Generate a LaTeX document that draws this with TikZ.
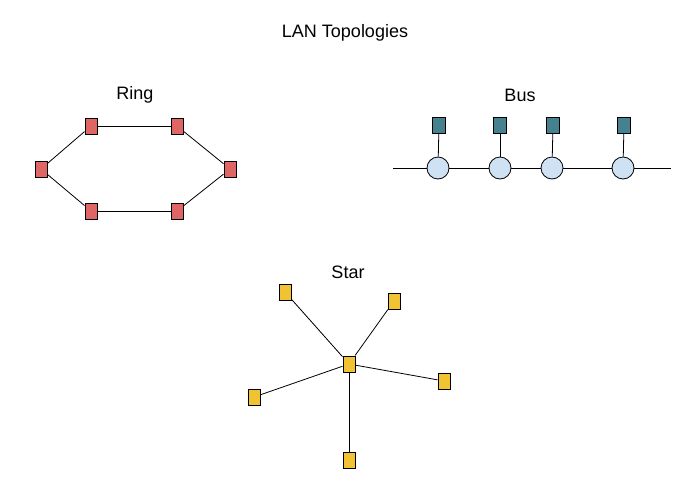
\documentclass[tikz,border=0pt]{standalone}
\usepackage{fontspec}
\setmainfont{Liberation Sans}
\usepackage{xcolor}
\usepackage{tikz}

\definecolor{ringred}{HTML}{E06666}
\definecolor{busteal}{HTML}{45818E}
\definecolor{buscirc}{HTML}{CFE2F3}
\definecolor{staryel}{HTML}{F1C232}

\begin{document}
\begin{tikzpicture}[x=0.75pt,y=-0.75pt, line width=0.6pt,
    dev/.style={draw, line width=0.75pt, minimum width=9pt, minimum height=12pt, inner sep=0pt},
    ringdev/.style={dev, fill=ringred},
    busdev/.style={dev, fill=busteal, minimum width=10pt, minimum height=12pt},
    tap/.style={circle, draw, line width=0.6pt, fill=buscirc, minimum size=16.5pt, inner sep=0pt},
    star/.style={dev, fill=staryel},
    lbl/.style={font=\fontsize{13.5}{16}\selectfont}]
    \useasboundingbox (0,0) rectangle (700,496);

    \node[lbl] (title) at (345,33) {LAN Topologies};

    %ring
    \node[lbl] (ringlbl) at (135,95) {Ring};
    \node[ringdev] (R1) at (91,126) {};
    \node[ringdev] (R2) at (177,126) {};
    \node[ringdev] (R3) at (230,169) {};
    \node[ringdev] (R4) at (177,211) {};
    \node[ringdev] (R5) at (91,211) {};
    \node[ringdev] (R6) at (41,169) {};

    \path[draw](R1)--(R2);
    \path[draw](R2)--(R3);
    \path[draw](R3)--(R4);
    \path[draw](R4)--(R5);
    \path[draw](R5)--(R6);
    \path[draw](R6)--(R1);

    %bus
    \node[lbl] (buslbl) at (520,95) {Bus};
    \coordinate (BL) at (393,168);
    \coordinate (BR) at (671,168);
    \node[tap] (T1) at (438,168) {};
    \node[tap] (T2) at (500,168) {};
    \node[tap] (T3) at (552,168) {};
    \node[tap] (T4) at (623,168) {};
    \node[busdev] (B1) at (439,125) {};
    \node[busdev] (B2) at (500,125) {};
    \node[busdev] (B3) at (553,125) {};
    \node[busdev] (B4) at (624,125) {};

    \path[draw](BL)--(T1);
    \path[draw](T1)--(T2);
    \path[draw](T2)--(T3);
    \path[draw](T3)--(T4);
    \path[draw](T4)--(BR);
    \path[draw](B1)--(T1);
    \path[draw](B2)--(T2);
    \path[draw](B3)--(T3);
    \path[draw](B4)--(T4);

    %star
    \node[lbl] (starlbl) at (348,272) {Star};
    \node[star] (S0) at (349,364) {};
    \node[star] (S1) at (285,292) {};
    \node[star] (S2) at (394,301) {};
    \node[star] (S3) at (444,381) {};
    \node[star] (S4) at (349,460) {};
    \node[star] (S5) at (254,397) {};

    \path[draw](S0)--(S1);
    \path[draw](S0)--(S2);
    \path[draw](S0)--(S3);
    \path[draw](S0)--(S4);
    \path[draw](S0)--(S5);
\end{tikzpicture}
\end{document}
